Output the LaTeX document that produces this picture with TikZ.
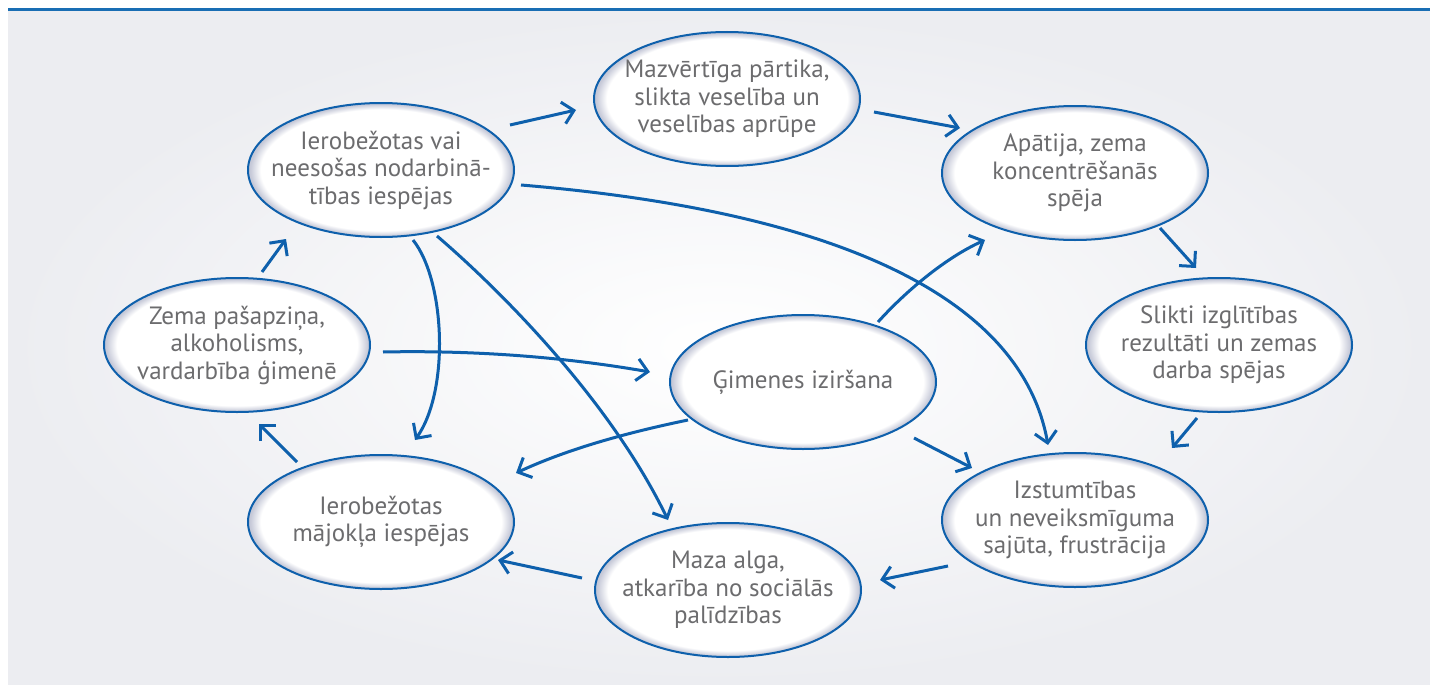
\documentclass[tikz,border=0pt]{standalone}
\usepackage{fontspec}
\setmainfont{PT Sans}
\usetikzlibrary{shapes.geometric,arrows.meta,calc}
\definecolor{dblue}{RGB}{14,96,172}
\definecolor{topblue}{RGB}{25,110,180}
\definecolor{txtgray}{RGB}{108,108,110}
\definecolor{ellgray}{RGB}{198,201,216}
\definecolor{bggray}{RGB}{236,237,241}
\pgfdeclareradialshading{ellshade}{\pgfpoint{0bp}{0bp}}{color(0bp)=(white); color(22.6bp)=(white); color(24.6bp)=(ellgray); color(25bp)=(ellgray); color(50bp)=(ellgray)}
\begin{document}
\begin{tikzpicture}[x=1pt,y=-1pt,
 ell/.style={ellipse, draw=dblue, line width=2pt, shade, shading=ellshade, minimum width=266pt, minimum height=134pt, inner sep=0pt},
 txt/.style={text=txtgray, align=center, font=\fontsize{25}{27.5}\selectfont},
 arr/.style={draw=dblue, line width=3pt, -{Straight Barb[length=11pt,width=22pt]}}]
\useasboundingbox (0,0) rectangle (1430,685);
\shade[inner color=white, outer color=bggray] (8,10) rectangle (1430,685);
\draw[topblue, line width=2.5pt] (8,9.3) -- (1430,9.3);

\node[ell] (n1) at (381,170) {};
\node[ell] (n2) at (727,99) {};
\node[ell] (n3) at (1075,173) {};
\node[ell] (n4) at (1219,345) {};
\node[ell] (n5) at (1075,520) {};
\node[ell] (n6) at (728,590) {};
\node[ell] (n7) at (381,522) {};
\node[ell] (n8) at (237,345) {};
\node[ell] (n9) at (803,382) {};

\node[txt] (t1) at (n1) {Ierobežotas vai\\neesošas nodarbinā-\\tības iespējas};
\node[txt] (t2) at (n2) {Mazvērtīga pārtika,\\slikta veselība un\\veselības aprūpe};
\node[txt] (t3) at (n3) {Apātija, zema\\koncentrēšanās\\spēja};
\node[txt] (t4) at (n4) {Slikti izglītības\\rezultāti un zemas\\darba spējas};
\node[txt] (t5) at (n5) {Izstumtības\\un neveiksmīguma\\sajūta, frustrācija};
\node[txt] (t6) at (n6) {Maza alga,\\atkarība no sociālās\\palīdzības};
\node[txt] (t7) at (n7) {Ierobežotas\\mājokļa iespējas};
\node[txt] (t8) at (n8) {Zema pašapziņa,\\alkoholisms,\\vardarbība ģimenē};
\node[txt] (t9) at (n9) {Ģimenes iziršana};

% cycle arrows
\draw[arr] ($(n1)+(129,-45)$) -- ($(n2)+(-151,11)$);
\draw[arr] ($(n2)+(147,13)$) -- ($(n3)+(-115,-45)$);
\draw[arr] ($(n3)+(85,55)$) -- ($(n4)+(-23,-77)$);
\draw[arr] ($(n4)+(-22,73)$) -- ($(n5)+(97,-72)$);
\draw[arr] ($(n5)+(-127,46)$) -- ($(n6)+(152,-10)$);
\draw[arr] ($(n6)+(-146,-12)$) -- ($(n7)+(117,38)$);
\draw[arr] ($(n7)+(-84,-60)$) -- ($(n8)+(22,79)$);
\draw[arr] ($(n8)+(25,-73)$) -- ($(n1)+(-95,69)$);

% inner arrows
\draw[arr] ($(n8)+(146,7)$) .. controls (480,350) and (570,358) .. ($(n9)+(-153,-10)$);
\draw[arr] ($(n9)+(-115,38)$) .. controls (630,432) and (570,448) .. ($(n7)+(135,-49)$);
\draw[arr] ($(n9)+(111,56)$) -- ($(n5)+(-103,-52)$);
\draw[arr] ($(n9)+(75,-60)$) .. controls (905,292) and (945,258) .. ($(n3)+(-90,67)$);
\draw[arr] ($(n1)+(140,15)$) .. controls (820,210) and (1020,290) .. ($(n5)+(-27,-75)$);
\draw[arr] ($(n1)+(56,66)$) .. controls (500,290) and (610,400) .. ($(n6)+(-60,-70)$);
\draw[arr] ($(n1)+(32,70)$) .. controls (445,280) and (450,390) .. ($(n7)+(34,-82)$);
\end{tikzpicture}
\end{document}
